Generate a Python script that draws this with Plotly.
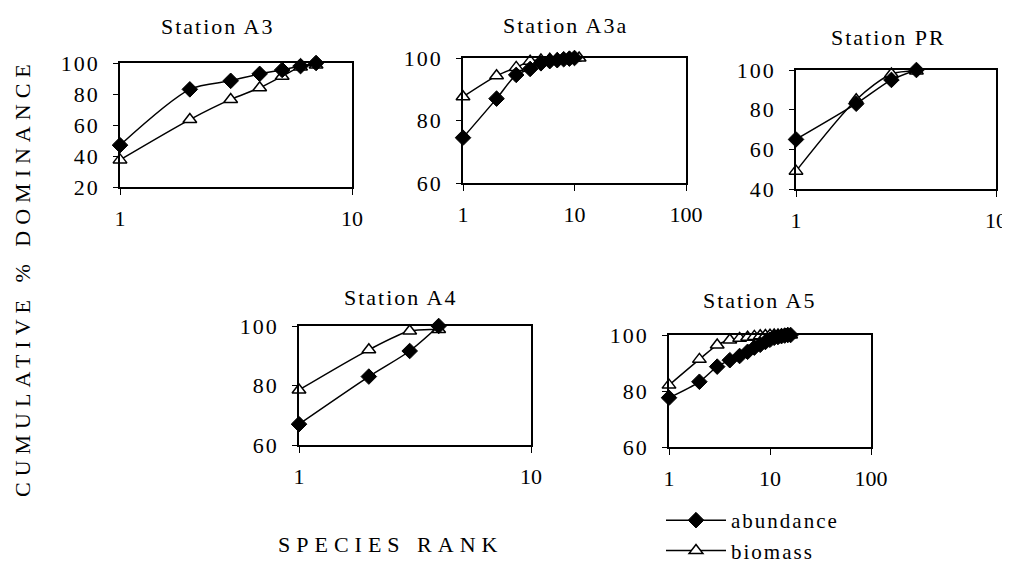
import plotly.graph_objects as go

# ---------------- data ----------------
stations = ["Station A3", "Station A3a", "Station PR", "Station A4", "Station A5"]

a3_abund = [47, 83, 88.5, 93, 95.5, 98, 100]
a3_biom = [37.5, 63.5, 76.5, 84, 91.5, 97.5, 98.7]

a3a_abund = [74.5, 87, 94.6, 96.5, 98.3, 99, 99.3, 99.6, 99.8, 100]
a3a_biom = [87.6, 94.3, 97, 99, 99.4, 99.6, 99.7, 99.8, 99.9, 100, 100]

pr_abund = [65, 83, 95, 100]
pr_biom = [49, 85, 98, 99.5]

a4_abund = [67, 83, 91.6, 100]
a4_biom = [78.5, 92, 98.3, 98.8]

a5_abund = [77.6, 83.3, 88.7, 91, 92.5, 94, 95.5, 96.5, 97.5, 98.3, 99, 99.3, 99.6, 99.8, 100, 100]
a5_biom = [82.1, 91.3, 96.4, 98.2, 98.8, 99.2, 99.5, 99.7, 99.8, 99.9, 100, 100, 100, 100, 100, 100]

abund_sets = [a3_abund, a3a_abund, pr_abund, a4_abund, a5_abund]
biom_sets = [a3_biom, a3a_biom, pr_biom, a4_biom, a5_biom]

y_ticks = [[20, 40, 60, 80, 100], [60, 80, 100], [40, 60, 80, 100], [60, 80, 100], [60, 80, 100]]
x_ticks = [[1, 10], [1, 10, 100], [1, 10], [1, 10], [1, 10, 100]]

# ---------------- layout geometry ----------------
# the page body has an 8px margin, so figure px = page px - 8
OFF = 8
W, H = 1002, 555
boxes = [  # page px: x0, x1, y0(top), y1(bottom)
    (120, 352, 63, 187),
    (463, 686, 58, 183),
    (796, 996, 70, 189),
    (299, 531, 326, 445),
    (669, 871, 335, 447),
]
title_pos = [(218, 27), (565, 25), (888, 37), (401, 297), (760, 300)]


def fx(px):
    return (px - OFF) / W


def fy(py):
    return 1 - (py - OFF) / H


FONT = "Liberation Serif, Times New Roman, serif"


def spaced(s, px):
    return f'<span style="letter-spacing:{px}px">{s}</span>'


fig = go.Figure()
layout = dict(
    width=W, height=H, margin=dict(l=0, r=0, t=0, b=0, autoexpand=False),
    paper_bgcolor="white", plot_bgcolor="white",
    font=dict(family=FONT, size=21, color="black"),
    showlegend=True,
)

annotations = []
for i in range(5):
    xa = "xaxis" if i == 0 else f"xaxis{i+1}"
    ya = "yaxis" if i == 0 else f"yaxis{i+1}"
    xr = "x" if i == 0 else f"x{i+1}"
    yr = "y" if i == 0 else f"y{i+1}"
    x0, x1, y0, y1 = boxes[i]
    xt = x_ticks[i]
    layout[xa] = dict(
        domain=[fx(x0), fx(x1)], anchor=yr, type="log",
        range=[0, len(xt) - 1], tickvals=xt,
        ticktext=[str(v) for v in xt],
        ticks="outside", ticklen=6, tickcolor="black", tickwidth=1,
        ticklabelstandoff=5, automargin=False, ticklabeloverflow="allow",
        showline=True, linecolor="black", linewidth=1.5, mirror=True,
        showgrid=False, zeroline=False, fixedrange=True,
        tickfont=dict(family=FONT, size=22, color="black"),
    )
    yt = y_ticks[i]
    layout[ya] = dict(
        domain=[fy(y1), fy(y0)], anchor=xr,
        range=[yt[0], yt[-1]], tickvals=yt,
        ticktext=[spaced(str(v), 2) for v in yt],
        ticks="outside", ticklen=5, tickcolor="black", tickwidth=1,
        ticklabelstandoff=9, automargin=False,
        showline=True, linecolor="black", linewidth=1.5, mirror=True,
        showgrid=False, zeroline=False, fixedrange=True,
        tickfont=dict(family=FONT, size=22, color="black"),
    )
    b = biom_sets[i]
    a = abund_sets[i]
    fig.add_trace(go.Scatter(
        x=list(range(1, len(b) + 1)), y=b, xaxis=xr, yaxis=yr,
        mode="lines+markers", name=spaced("biomass", 2), legendrank=2,
        showlegend=(i == 4), cliponaxis=False,
        line=dict(color="black", width=1.5, shape="spline", smoothing=0.8),
        marker=dict(symbol="triangle-up", size=12, color="white",
                    line=dict(color="black", width=1.5)),
    ))
    fig.add_trace(go.Scatter(
        x=list(range(1, len(a) + 1)), y=a, xaxis=xr, yaxis=yr,
        mode="lines+markers", name=spaced("abundance", 2), legendrank=1,
        showlegend=(i == 4), cliponaxis=False,
        line=dict(color="black", width=1.5, shape="spline", smoothing=0.8),
        marker=dict(symbol="diamond", size=12, color="black",
                    line=dict(color="black", width=1)),
    ))
    tx, ty = title_pos[i]
    annotations.append(dict(
        text=spaced(stations[i], 2), x=fx(tx), y=fy(ty), xref="paper", yref="paper",
        xanchor="center", yanchor="middle", showarrow=False,
        font=dict(family=FONT, size=22, color="black"),
    ))

annotations.append(dict(
    text=spaced("CUMULATIVE % DOMINANCE", 6),
    x=fx(22), y=fy(278), xref="paper", yref="paper",
    xanchor="center", yanchor="middle", textangle=-90, showarrow=False,
    font=dict(family=FONT, size=22, color="black"),
))
annotations.append(dict(
    text=spaced("SPECIES RANK", 6),
    x=fx(390), y=fy(544), xref="paper", yref="paper",
    xanchor="center", yanchor="middle", showarrow=False,
    font=dict(family=FONT, size=22, color="black"),
))

layout["annotations"] = annotations
layout["legend"] = dict(
    x=fx(661), y=fy(500), xanchor="left", yanchor="top",
    font=dict(family=FONT, size=21, color="black"),
    bgcolor="rgba(0,0,0,0)", borderwidth=0, itemwidth=60,
    tracegroupgap=0,
)
fig.update_layout(**layout)
fig.write_html("out.html")
